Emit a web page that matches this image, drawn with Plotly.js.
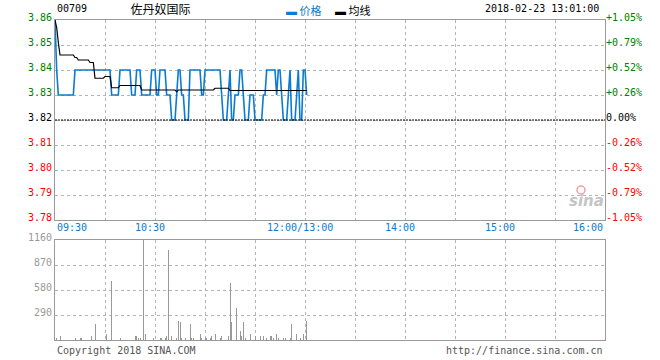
<!DOCTYPE html>
<html><head><meta charset="utf-8">
<script src="https://cdn.plot.ly/plotly-3.0.1.min.js"></script>
<style>html,body{margin:0;padding:0;background:#fff;}#chart{width:660px;height:360px;}</style>
</head><body><div id="chart"></div>
<script>
const stockCode = '00709';
const stockName = '佐丹奴国际';
const timestamp = '2018-02-23 13:01:00';
const prevClose = 3.82;
const legendNames = ['价格', '均线'];
const copyrightText = 'Copyright 2018 SINA.COM';
const urlText = 'http://finance.sina.com.cn';

// one value per trading minute from 09:30
const price = [
  3.86,3.84,3.83,3.83,3.83,3.83,3.83,3.83,3.83,3.83,
  3.83,3.83,3.84,3.84,3.84,3.84,3.84,3.84,3.84,3.84,
  3.84,3.84,3.84,3.84,3.84,3.84,3.84,3.84,3.84,3.84,
  3.84,3.84,3.84,3.84,3.83,3.83,3.83,3.83,3.83,3.84,
  3.84,3.84,3.84,3.84,3.84,3.84,3.83,3.83,3.83,3.84,
  3.84,3.84,3.83,3.83,3.83,3.83,3.83,3.83,3.84,3.84,
  3.84,3.83,3.83,3.84,3.84,3.84,3.84,3.83,3.83,3.83,
  3.82,3.82,3.82,3.83,3.84,3.84,3.83,3.83,3.82,3.82,
  3.82,3.84,3.84,3.84,3.84,3.84,3.84,3.84,3.83,3.83,
  3.84,3.84,3.84,3.84,3.84,3.84,3.84,3.84,3.84,3.84,
  3.83,3.82,3.82,3.82,3.83,3.84,3.82,3.82,3.83,3.83,
  3.83,3.84,3.84,3.83,3.82,3.82,3.82,3.83,3.83,3.83,
  3.82,3.82,3.82,3.82,3.82,3.83,3.83,3.84,3.84,3.84,
  3.84,3.84,3.84,3.83,3.84,3.84,3.83,3.82,3.82,3.82,
  3.83,3.84,3.82,3.82,3.82,3.83,3.84,3.82,3.82,3.84,
  3.84,3.83
];
const avgPrice = [
  3.860,3.857,3.851,3.846,3.846,3.846,3.846,3.846,3.846,3.846,
  3.846,3.846,3.845,3.845,3.844,3.844,3.844,3.844,3.844,3.844,
  3.844,3.843,3.843,3.843,3.8367,3.8367,3.8367,3.8367,3.8367,3.8367,
  3.8374,3.8374,3.8374,3.8374,3.8329,3.8329,3.8329,3.8329,3.8329,3.8338,
  3.8338,3.8338,3.8338,3.8338,3.8338,3.8338,3.8338,3.8338,3.8338,3.8338,
  3.8338,3.8338,3.8320,3.8320,3.8320,3.8320,3.8320,3.8320,3.8320,3.8320,
  3.8320,3.8320,3.8320,3.8320,3.8320,3.8320,3.8320,3.8320,3.8320,3.8320,
  3.8320,3.8320,3.8320,3.8313,3.8320,3.8320,3.8320,3.8320,3.8320,3.8320,
  3.8320,3.8320,3.8320,3.8320,3.8320,3.8320,3.8320,3.8320,3.8320,3.8320,
  3.8320,3.8320,3.8320,3.8320,3.8320,3.8320,3.8327,3.8327,3.8327,3.8327,
  3.8327,3.8327,3.8327,3.8327,3.8327,3.8318,3.8318,3.8318,3.8318,3.8318,
  3.8318,3.8318,3.8318,3.8318,3.8318,3.8318,3.8318,3.8318,3.8318,3.8318,
  3.8318,3.8318,3.8318,3.8318,3.8318,3.8318,3.8318,3.8318,3.8318,3.8318,
  3.8318,3.8318,3.8318,3.8318,3.8318,3.8318,3.8318,3.8318,3.8318,3.8318,
  3.8318,3.8318,3.8318,3.8318,3.8318,3.8318,3.8318,3.8318,3.8318,3.8318,
  3.8318,3.8318
];
const volMinute = [1,3,12,15,16,22,24,31,34,39,48,49,50,51,53,54,59,63,64,66,67,68,70,73,74,75,76,78,81,82,83,87,88,90,91,93,94,96,99,100,104,105,106,109,111,112,113,114,117,120,123,125,127,129,130,131,133,134,137,138,141,142,145,147,149,151];
const volValue  = [19,46,19,19,19,46,186,70,684,19,46,46,19,19,1160,70,19,19,19,19,46,1044,46,19,220,209,19,19,186,19,19,70,19,19,19,19,46,70,19,46,46,657,209,371,104,46,209,19,70,46,46,46,19,46,46,19,70,19,19,19,19,186,70,19,70,220];

const timeTickMinutes = [0, 60, 150, 210, 270, 330];
const timeTickLabels = ['09:30', '10:30', '12:00/13:00', '14:00', '15:00', '16:00'];
const priceTicks = [3.78, 3.79, 3.80, 3.81, 3.82, 3.83, 3.84, 3.85, 3.86];
const priceTickLabels = ['3.78', '3.79', '3.80', '3.81', '3.82', '3.83', '3.84', '3.85', '3.86'];
const pctTickLabels = ['-1.05%', '-0.79%', '-0.52%', '-0.26%', '0.00%', '+0.26%', '+0.52%', '+0.79%', '+1.05%'];
const volTicks = [290, 580, 870, 1160];
const volTickLabels = ['290', '580', '870', '1160'];

const GREEN = '#008000', RED = '#ff0000', BLACK = '#000000';
const BLUE = '#0b7bd1', GRID = '#b4b4b4', FRAME = '#9a9a9a';
const MONO = 'DejaVu Sans Mono', CJK = 'Noto Sans CJK SC';
const colorFor = v => Math.abs(v - prevClose) < 1e-9 ? BLACK : (v > prevClose ? GREEN : RED);
const span = (t, c) => '<span style="color:' + c + '">' + t + '</span>';

const W = 660, H = 360, ML = 55, MR = 55, MT = 20, MB = 20;
const PW = W - ML - MR, PH = H - MT - MB;
const px = x => (x - ML) / PW;
const py = y => (H - MB - y) / PH;
const LABEL_SHIFT = -3;

const minuteIdx = price.map((_, i) => i);

const traces = [
  {x: minuteIdx, y: price, type: 'scatter', mode: 'lines', xaxis: 'x', yaxis: 'y',
   line: {color: BLUE, width: 1.6}, hoverinfo: 'skip'},
  {x: minuteIdx, y: avgPrice, type: 'scatter', mode: 'lines', xaxis: 'x', yaxis: 'y',
   line: {color: BLACK, width: 1.2}, hoverinfo: 'skip'},
  {x: volMinute, y: volValue, type: 'bar', xaxis: 'x2', yaxis: 'y2',
   marker: {color: '#999999', line: {width: 0}}, width: 0.6, hoverinfo: 'skip'},
  {x: [0], y: [prevClose], type: 'scatter', mode: 'markers', xaxis: 'x', yaxis: 'y3',
   marker: {opacity: 0}, hoverinfo: 'skip'}
];

const annotations = [];
timeTickMinutes.forEach((m, i) => {
  const first = i === 0, last = i === timeTickMinutes.length - 1;
  annotations.push({x: m, y: py(227.5), xref: 'x', yref: 'paper', text: timeTickLabels[i],
    showarrow: false, xanchor: first ? 'left' : (last ? 'right' : 'center'),
    xshift: (first || last) ? 0 : -5.5, yanchor: 'middle',
    font: {family: MONO, size: 10, color: BLUE}});
});
annotations.push(
  {x: px(55), y: py(8.5), xref: 'paper', yref: 'paper', text: stockCode, showarrow: false,
   xanchor: 'left', yanchor: 'middle', font: {family: MONO, size: 10, color: BLACK}},
  {x: px(601), y: py(8.5), xref: 'paper', yref: 'paper', text: timestamp, showarrow: false,
   xanchor: 'right', yanchor: 'middle', font: {family: MONO, size: 10, color: BLACK}},
  {x: px(284), y: py(10), xref: 'paper', yref: 'paper', text: span('▬', BLUE) + ' ' + span(legendNames[0], BLUE),
   showarrow: false, xanchor: 'left', yanchor: 'middle', font: {family: CJK, size: 11, color: BLUE}},
  {x: px(333), y: py(10), xref: 'paper', yref: 'paper', text: span('▬', BLACK) + ' ' + legendNames[1],
   showarrow: false, xanchor: 'left', yanchor: 'middle', font: {family: CJK, size: 11, color: BLACK}},
  {x: px(55), y: py(350), xref: 'paper', yref: 'paper', text: copyrightText, showarrow: false,
   xanchor: 'left', yanchor: 'middle', font: {family: MONO, size: 10, color: '#555555'}},
  {x: px(605), y: py(350), xref: 'paper', yref: 'paper', text: urlText, showarrow: false,
   xanchor: 'right', yanchor: 'middle', font: {family: MONO, size: 10, color: '#555555'}},
  {x: px(586), y: py(201), xref: 'paper', yref: 'paper', text: '<b><i>sina</i></b>', showarrow: false,
   xanchor: 'center', yanchor: 'middle', font: {family: 'DejaVu Sans', size: 15, color: '#c4c4c4'}}
);

const shapes = [
  {type: 'line', xref: 'x', yref: 'y', x0: 0, x1: 330, y0: prevClose, y1: prevClose,
   line: {color: BLACK, width: 1, dash: '2px,1px'}},
  {type: 'circle', xref: 'paper', yref: 'paper', x0: px(577), x1: px(585), y0: py(194), y1: py(186),
   line: {color: '#f2a0a0', width: 1.5}, fillcolor: 'rgba(0,0,0,0)'}
];

const axisCommon = {showline: true, mirror: true, linecolor: FRAME, linewidth: 1, zeroline: false,
  ticks: '', showgrid: true, gridcolor: GRID, griddash: 'dot', gridwidth: 1, fixedrange: true};

const layout = {
  width: W, height: H, margin: {l: ML, r: MR, t: MT, b: MB, pad: 0},
  paper_bgcolor: '#ffffff', plot_bgcolor: '#ffffff', showlegend: false,
  font: {family: MONO, size: 10, color: BLACK},
  title: {text: stockName, x: 160.5 / W, xanchor: 'center', xref: 'container',
          y: 1 - 10 / H, yanchor: 'middle', yref: 'container',
          font: {family: CJK, size: 12, color: BLACK}},
  xaxis: Object.assign({}, axisCommon, {domain: [0, 1], anchor: 'y', range: [0, 330], tick0: 0, dtick: 30,
          showticklabels: false}),
  yaxis: Object.assign({}, axisCommon, {domain: [py(220), 1], anchor: 'x', range: [3.78, 3.86],
          tickmode: 'array', tickvals: priceTicks, ticklabelshift: LABEL_SHIFT,
          ticktext: priceTickLabels.map((t, i) => span(t, colorFor(priceTicks[i]))),
          tickfont: {family: MONO, size: 10}}),
  yaxis3: {overlaying: 'y', side: 'right', anchor: 'x', range: [3.78, 3.86], showgrid: false,
          showline: false, zeroline: false, ticks: '', tickmode: 'array', tickvals: priceTicks,
          ticklabelshift: LABEL_SHIFT,
          ticktext: pctTickLabels.map((t, i) => span(t, colorFor(priceTicks[i]))),
          tickfont: {family: MONO, size: 10}, fixedrange: true},
  xaxis2: Object.assign({}, axisCommon, {domain: [0, 1], anchor: 'y2', range: [0, 330], tick0: 0, dtick: 30,
          showticklabels: false}),
  yaxis2: Object.assign({}, axisCommon, {domain: [0, py(240)], anchor: 'x2', range: [0, 1160],
          tickmode: 'array', tickvals: volTicks, ticktext: volTickLabels, ticklabelshift: LABEL_SHIFT,
          tickfont: {family: MONO, size: 10, color: '#999999'}}),
  bargap: 0,
  annotations: annotations,
  shapes: shapes
};

Plotly.newPlot('chart', traces, layout, {staticPlot: true, displayModeBar: false});
</script>
</body></html>
